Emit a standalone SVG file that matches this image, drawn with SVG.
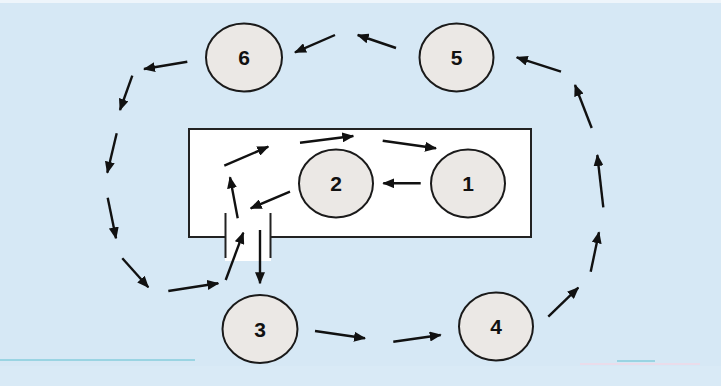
<svg xmlns="http://www.w3.org/2000/svg" width="721" height="386" viewBox="0 0 721 386">
<defs>
<marker id="ah" markerWidth="12" markerHeight="10" refX="11" refY="5" orient="auto" markerUnits="userSpaceOnUse">
<path d="M0,0 L12,5 L0,10 Z" fill="#111"/>
</marker>
<style>
.node ellipse{fill:#ebe8e5;stroke:#1a1a1a;stroke-width:2}
.node text{font-family:"Liberation Sans",Arial,sans-serif;font-weight:bold;font-size:21px;fill:#111;text-anchor:middle}
#connectors line{stroke:#111;stroke-width:2.4;marker-end:url(#ah)}
.wall{stroke:#222;stroke-width:2;fill:none}
</style>
</defs>
<rect x="0" y="0" width="721" height="386" fill="#d6e8f5"/>
<rect x="0" y="0" width="721" height="3" fill="#eef5fb"/>
<rect x="0" y="366" width="721" height="20" fill="#d9eaf6"/>
<line x1="0" y1="360" x2="195" y2="360" stroke="#5fc0d0" stroke-width="1"/>
<line x1="617" y1="361" x2="655" y2="361" stroke="#5fc0d0" stroke-width="1"/>
<line x1="580" y1="364" x2="700" y2="364" stroke="#f1d8e6" stroke-width="1.5"/>

<g id="room">
<rect x="189" y="129" width="342" height="108" fill="#ffffff" stroke="none"/>
<rect x="225" y="236" width="46" height="25" fill="#ffffff"/>
<path class="wall" d="M225,237 L189,237 L189,129 L531,129 L531,237 L271,237"/>
<line class="wall" x1="225.5" y1="213" x2="225.5" y2="258"/>
<line class="wall" x1="270.5" y1="213" x2="270.5" y2="258"/>
</g>

<g id="node1" class="node"><ellipse cx="468" cy="183.5" rx="37" ry="34"/><text x="468" y="191">1</text></g>
<g id="node2" class="node"><ellipse cx="336" cy="183.5" rx="37" ry="34"/><text x="336" y="191">2</text></g>
<g id="node3" class="node"><ellipse cx="260" cy="329" rx="37.5" ry="34"/><text x="260" y="336.5">3</text></g>
<g id="node4" class="node"><ellipse cx="496" cy="326.5" rx="37" ry="34"/><text x="496" y="334">4</text></g>
<g id="node5" class="node"><ellipse cx="456.5" cy="57.5" rx="37" ry="34"/><text x="456.5" y="65">5</text></g>
<g id="node6" class="node"><ellipse cx="244" cy="57.5" rx="38" ry="34"/><text x="244" y="65">6</text></g>

<g id="connectors">
<line x1="420.7" y1="183.3" x2="383.3" y2="183.3"/>
<line x1="290" y1="191.7" x2="250.7" y2="208.3"/>
<line x1="260" y1="230" x2="260" y2="283.3"/>
<line x1="315" y1="331" x2="365" y2="338.3"/>
<line x1="393.3" y1="341.7" x2="440.7" y2="335"/>
<line x1="548.3" y1="316.7" x2="578.3" y2="287.7"/>
<line x1="590.7" y1="271.7" x2="599" y2="232.3"/>
<line x1="603.3" y1="207.3" x2="597.3" y2="155"/>
<line x1="591.7" y1="128" x2="575" y2="85"/>
<line x1="561" y1="71.7" x2="516.7" y2="57.3"/>
<line x1="396" y1="48" x2="357.7" y2="35"/>
<line x1="335" y1="35" x2="295" y2="52.3"/>
<line x1="187.3" y1="61.7" x2="144" y2="69"/>
<line x1="132.3" y1="75.7" x2="120" y2="110"/>
<line x1="116.7" y1="133.3" x2="107.3" y2="172.7"/>
<line x1="107.7" y1="197.7" x2="116" y2="238.3"/>
<line x1="122.3" y1="258.3" x2="148.3" y2="287.3"/>
<line x1="168.3" y1="291" x2="218.3" y2="283.3"/>
<line x1="225.7" y1="280" x2="243.3" y2="232.7"/>
<line x1="237.7" y1="218.3" x2="230" y2="177.3"/>
<line x1="224.3" y1="165.7" x2="268.3" y2="146.7"/>
<line x1="300" y1="142.7" x2="353.3" y2="136"/>
<line x1="382.7" y1="140.7" x2="436" y2="148.3"/>
</g>
</svg>
